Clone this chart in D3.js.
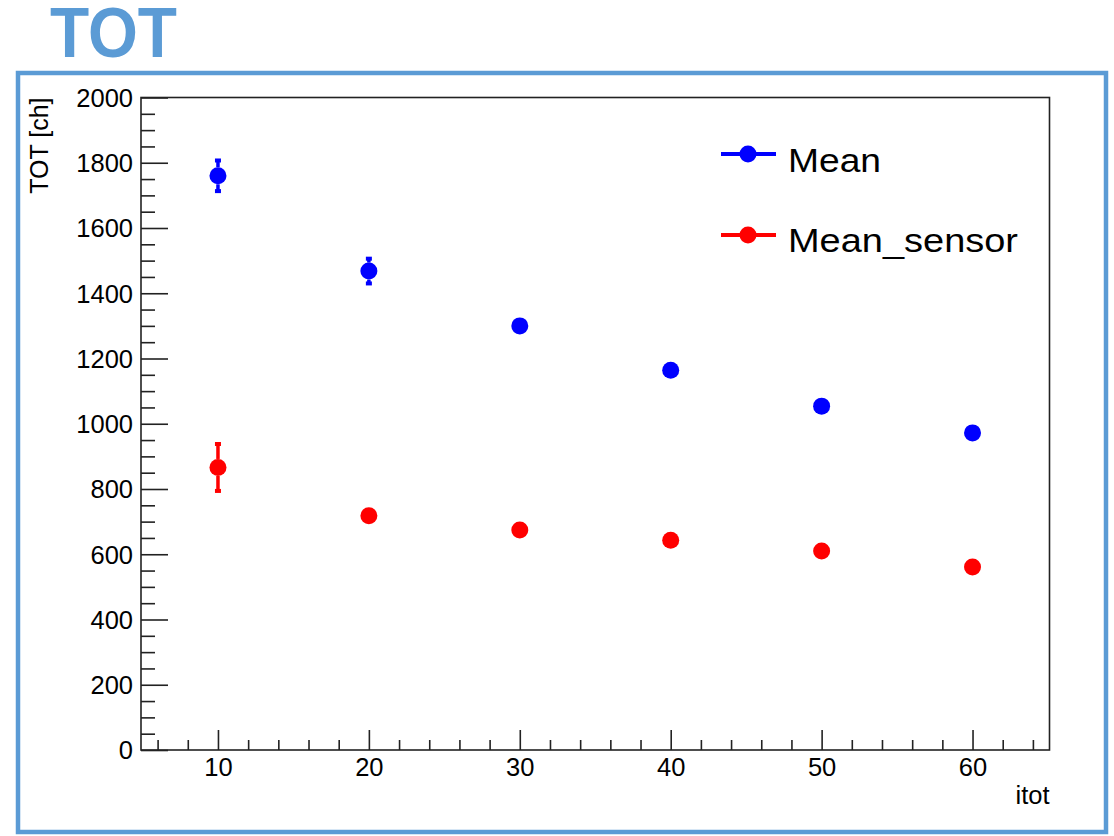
<!DOCTYPE html>
<html>
<head>
<meta charset="utf-8">
<script src="https://cdn.jsdelivr.net/npm/d3@7"></script>
<style>
  html, body { margin: 0; padding: 0; background: #fff; }
  svg { display: block; }
</style>
</head>
<body>
<svg id="chart" width="1114" height="836"></svg>
<script>
// itot settings and the two measured TOT means with their errors
const itot = [10, 20, 30, 40, 50, 60];
const meanVals = [1760, 1468, 1300, 1164, 1054, 972];
const meanErrs = [50, 41, 12, 10, 9, 8];
const sensorVals = [866, 718, 674, 643, 610, 561];
const sensorErrs = [75, 14, 10, 9, 8, 8];

const seriesNames = ["Mean", "Mean_sensor"];
const seriesColors = ["#0000ff", "#ff0000"];

const xTicks = [10, 20, 30, 40, 50, 60];
const xMinorTicks = [6, 8, 12, 14, 16, 18, 22, 24, 26, 28, 32, 34, 36, 38, 42, 44, 46, 48, 52, 54, 56, 58, 62, 64];
const yTicks = [0, 200, 400, 600, 800, 1000, 1200, 1400, 1600, 1800, 2000];
const yMinorTicks = d3.range(50, 2000, 50).filter(v => v % 200 !== 0);

const svg = d3.select("#chart");
const plot = { left: 141, right: 1049.5, top: 97.5, bottom: 750 };
const axisFont = "'Liberation Sans', Arial, Helvetica, sans-serif";

const x = d3.scaleLinear().domain([4.9, 65.1]).range([plot.left, plot.right]);
const y = d3.scaleLinear().domain([0, 2000]).range([plot.bottom, plot.top]);

// Outer panel border and heading
svg.append("rect")
  .attr("x", 18).attr("y", 73).attr("width", 1088).attr("height", 759)
  .attr("fill", "none").attr("stroke", "#5b9bd5").attr("stroke-width", 4.5);

svg.append("text")
  .attr("x", 50).attr("y", 57)
  .attr("font-family", axisFont).attr("font-weight", "bold")
  .attr("font-size", 70).attr("fill", "#5b9bd5")
  .attr("textLength", 127).attr("lengthAdjust", "spacingAndGlyphs")
  .text("TOT");

// Plot frame
svg.append("rect")
  .attr("x", plot.left).attr("y", plot.top)
  .attr("width", plot.right - plot.left).attr("height", plot.bottom - plot.top)
  .attr("fill", "none").attr("stroke", "#222").attr("stroke-width", 1.6);

// Y axis: major ticks with labels, minor ticks inward
const yAxis = svg.append("g").attr("transform", `translate(${plot.left},0)`)
  .call(d3.axisLeft(y).tickValues(yTicks).tickFormat(d3.format("d"))
    .tickSizeInner(-27).tickSizeOuter(0).tickPadding(8));
yAxis.select(".domain").remove();
yAxis.selectAll("line").attr("stroke", "#222").attr("stroke-width", 1.6);
yAxis.selectAll("text").attr("font-family", axisFont).attr("font-size", 25.5)
  .attr("fill", "#000").attr("dy", "0.35em");

const yMinor = svg.append("g").attr("transform", `translate(${plot.left},0)`)
  .call(d3.axisLeft(y).tickValues(yMinorTicks).tickFormat("")
    .tickSizeInner(-14).tickSizeOuter(0));
yMinor.select(".domain").remove();
yMinor.selectAll("line").attr("stroke", "#222").attr("stroke-width", 1.6);

// X axis: major ticks with labels, minor ticks inward
const xAxis = svg.append("g").attr("transform", `translate(0,${plot.bottom})`)
  .call(d3.axisBottom(x).tickValues(xTicks).tickFormat(d3.format("d"))
    .tickSizeInner(-20).tickSizeOuter(0).tickPadding(8));
xAxis.select(".domain").remove();
xAxis.selectAll("line").attr("stroke", "#222").attr("stroke-width", 1.6);
xAxis.selectAll("text").attr("font-family", axisFont).attr("font-size", 25.5)
  .attr("fill", "#000").attr("dy", "0.72em");

const xMinor = svg.append("g").attr("transform", `translate(0,${plot.bottom})`)
  .call(d3.axisBottom(x).tickValues(xMinorTicks).tickFormat("")
    .tickSizeInner(-10).tickSizeOuter(0));
xMinor.select(".domain").remove();
xMinor.selectAll("line").attr("stroke", "#222").attr("stroke-width", 1.6);

// Axis titles
svg.append("text")
  .attr("transform", `translate(48,${plot.top}) rotate(-90)`)
  .attr("text-anchor", "end")
  .attr("font-family", axisFont).attr("font-size", 25).attr("fill", "#000")
  .text("TOT [ch]");

svg.append("text")
  .attr("x", plot.right).attr("y", 804)
  .attr("text-anchor", "end")
  .attr("font-family", axisFont).attr("font-size", 25.5).attr("fill", "#000")
  .text("itot");

// Data points with vertical error bars drawn outside the marker
const markerR = 8.5;
const series = [
  { name: seriesNames[0], color: seriesColors[0], vals: meanVals, errs: meanErrs },
  { name: seriesNames[1], color: seriesColors[1], vals: sensorVals, errs: sensorErrs }
];

series.forEach(s => {
  const pts = itot.map((t, i) => ({ t, v: s.vals[i], e: s.errs[i] }));
  const g = svg.append("g");
  pts.forEach(p => {
    const cx = x(p.t), cy = y(p.v);
    const yTop = y(p.v + p.e), yBot = y(p.v - p.e);
    if (cy - yTop > markerR) {
      g.append("line").attr("x1", cx).attr("x2", cx)
        .attr("y1", yTop).attr("y2", cy - markerR)
        .attr("stroke", s.color).attr("stroke-width", 3.5);
      g.append("rect").attr("x", cx - 3).attr("y", yTop - 1)
        .attr("width", 6).attr("height", 4).attr("fill", s.color);
    }
    if (yBot - cy > markerR) {
      g.append("line").attr("x1", cx).attr("x2", cx)
        .attr("y1", cy + markerR).attr("y2", yBot)
        .attr("stroke", s.color).attr("stroke-width", 3.5);
      g.append("rect").attr("x", cx - 3).attr("y", yBot - 3)
        .attr("width", 6).attr("height", 4).attr("fill", s.color);
    }
  });
  g.selectAll("circle").data(pts).join("circle")
    .attr("cx", d => x(d.t)).attr("cy", d => y(d.v))
    .attr("r", markerR).attr("fill", s.color);
});

// Legend
const legendRows = [
  { markerY: 154, textY: 172, width: 93 },
  { markerY: 235, textY: 252, width: 230 }
];
series.forEach((s, i) => {
  const row = legendRows[i];
  svg.append("line")
    .attr("x1", 721).attr("x2", 776)
    .attr("y1", row.markerY).attr("y2", row.markerY)
    .attr("stroke", s.color).attr("stroke-width", 4);
  svg.append("circle")
    .attr("cx", 748).attr("cy", row.markerY).attr("r", markerR)
    .attr("fill", s.color);
  svg.append("text")
    .attr("x", 788).attr("y", row.textY)
    .attr("font-family", axisFont).attr("font-size", 34).attr("fill", "#000")
    .attr("textLength", row.width).attr("lengthAdjust", "spacingAndGlyphs")
    .text(s.name);
});
</script>
</body>
</html>
